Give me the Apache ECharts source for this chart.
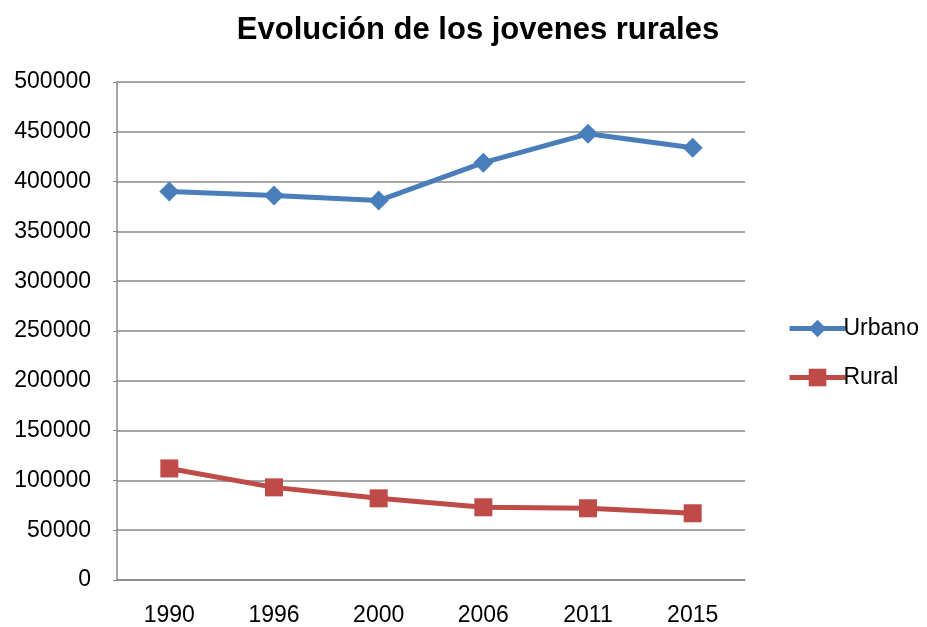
<!DOCTYPE html>
<html>
<head>
<meta charset="utf-8">
<script src="https://cdn.jsdelivr.net/npm/echarts@6/dist/echarts.min.js"></script>
<style>
  html, body { margin: 0; padding: 0; background: #fff; }
  #chart { width: 927px; height: 627px; }
</style>
</head>
<body>
<div id="chart"></div>
<script>
const years = ['1990', '1996', '2000', '2006', '2011', '2015']
const urbano = [390000, 386000, 381000, 419000, 448000, 434000]
const rural = [112000, 93000, 82000, 73000, 72000, 67000]

const font = 'Liberation Sans, Arial, sans-serif'

const chart = echarts.init(document.getElementById('chart'))

chart.setOption({
  animation: false,
  title: {
    text: 'Evolución de los jovenes rurales',
    left: 473,
    textAlign: 'center',
    top: 10,
    textStyle: { fontFamily: font, fontSize: 31, fontWeight: 'bold', color: '#000' }
  },
  grid: { left: 117, right: 182, top: 82, bottom: 47 },
  legend: {
    orient: 'vertical',
    left: 782,
    top: 312,
    itemWidth: 56,
    itemHeight: 22,
    itemGap: 26,
    lineStyle: { width: 5 },
    textStyle: { fontFamily: font, fontSize: 23, color: '#000', padding: [0, 0, 0, -7] },
    data: ['Urbano', 'Rural']
  },
  xAxis: {
    type: 'category',
    data: years,
    axisLine: { lineStyle: { color: '#888', width: 1.5 } },
    axisTick: { show: false },
    axisLabel: { fontFamily: font, fontSize: 23, color: '#000', margin: 24 }
  },
  yAxis: {
    type: 'value',
    min: 0,
    max: 500000,
    interval: 50000,
    axisLine: { show: true, lineStyle: { color: '#888', width: 1.5 } },
    axisTick: { show: true, length: 4, lineStyle: { color: '#888' } },
    splitLine: { lineStyle: { color: '#888', width: 1.5 } },
    axisLabel: {
      fontFamily: font,
      fontSize: 23,
      color: '#000',
      margin: 26,
      formatter: v => String(v)
    }
  },
  series: [
    {
      name: 'Urbano',
      type: 'line',
      data: urbano,
      symbol: 'diamond',
      symbolSize: 20,
      lineStyle: { color: '#4a7ebb', width: 5 },
      itemStyle: { color: '#4a7ebb' }
    },
    {
      name: 'Rural',
      type: 'line',
      data: rural,
      symbol: 'rect',
      symbolSize: 18,
      lineStyle: { color: '#be4b48', width: 5 },
      itemStyle: { color: '#be4b48' }
    }
  ]
})
</script>
</body>
</html>
